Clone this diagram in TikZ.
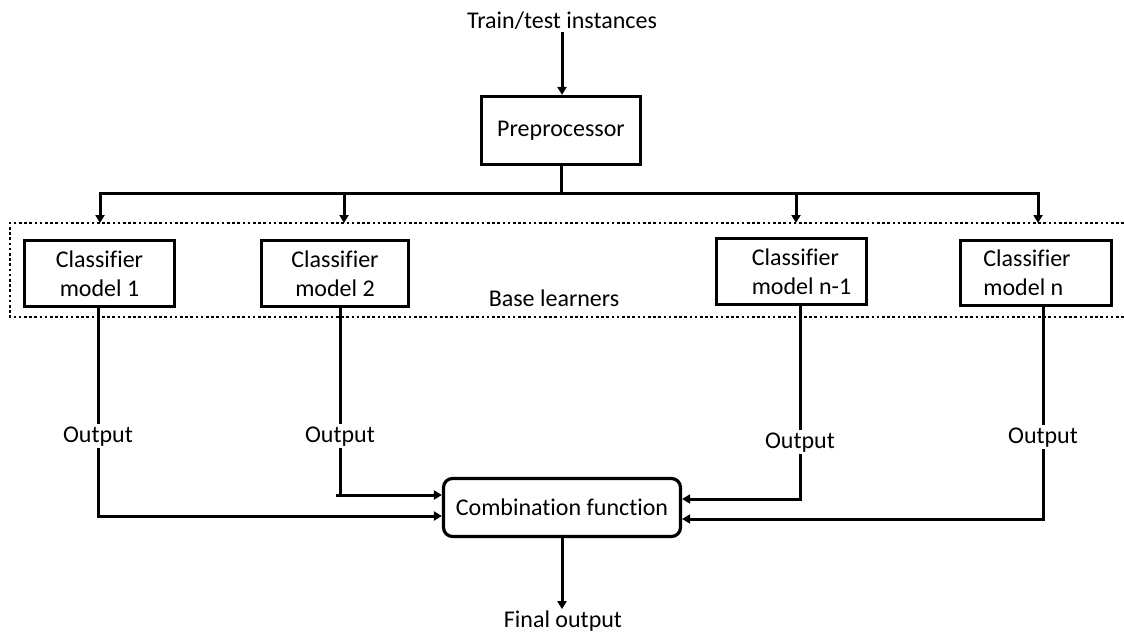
\documentclass[tikz,border=0pt]{standalone}
\usepackage{fontspec}
\setmainfont{Carlito}[Ligatures=NoCommon]
\usetikzlibrary{arrows.meta}
\begin{document}
\begin{tikzpicture}[x=1pt,y=-1pt,
  every node/.style={font=\fontsize{24}{29}\selectfont, inner sep=2pt},
  box/.style={draw, line width=3.2pt, align=center, inner sep=0pt},
  wire/.style={line width=3pt, line join=miter},
  arrow/.style={wire, -{Triangle[length=8pt,width=9pt]}},
  group/.style={line width=2.8pt, dash pattern=on 2.6pt off 2.6pt}]
\useasboundingbox (0,0) rectangle (1124,634);

% input and preprocessing
\node (src) [anchor=base] at (562,29) {Train/test instances};
\node (pre) [box, minimum width=159pt, minimum height=68pt] at (561,130.5) {Preprocessor};
\draw[arrow] (src.south) -- (src.south |- pre.north);

% distribution bus
\coordinate (b1) at (100,193);
\coordinate (b2) at (344,193);
\coordinate (b3) at (796,193);
\coordinate (b4) at (1038,193);
\coordinate (t1) at (100,223);
\coordinate (t2) at (344,223);
\coordinate (t3) at (796,223);
\coordinate (t4) at (1038,223);
\draw[wire] (pre.south) -- (pre.south |- b1);
\draw[arrow] (pre.south |- b1) -- (b1) -- (t1);
\draw[arrow] (pre.south |- b1) -- (b4) -- (t4);
\draw[arrow] (b2) -- (t2);
\draw[arrow] (b3) -- (t3);

% base learners group (open on the right)
\coordinate (gTR) at (1124,223);
\coordinate (gTL) at (10,223);
\coordinate (gBL) at (10,317);
\coordinate (gBR) at (1124,317);
\draw[group] (gTR) -- (gTL) -- (gBL) -- (gBR);

\node (c1) [box, minimum width=150pt, minimum height=66pt] at (99.5,273.5) {Classifier\\model 1};
\node (c2) [box, minimum width=147pt, minimum height=66pt] at (335,273.5) {Classifier\\model 2};
\node (c3) [box, minimum width=150pt, minimum height=66pt, align=left] at (791.5,271.5) {\hspace*{20pt}Classifier\\\hspace*{20pt}model n-1};
\node (c4) [box, minimum width=151pt, minimum height=65pt, align=left] at (1036,273) {Classifier\hspace*{18pt}\\model n};
\node (base) at (554,298) {Base learners};

% outputs of the base learners
\node (o1) [anchor=base] at (98,442) {Output};
\node (o2) [anchor=base] at (340,442) {Output};
\node (o3) [anchor=base] at (800,448) {Output};
\node (o4) [anchor=base] at (1043,443) {Output};
\draw[wire] (c1.south -| o1) -- (o1);
\draw[wire] (c2.south -| o2) -- (o2);
\draw[wire] (c3.south -| o3) -- (o3);
\draw[wire] (c4.south -| o4) -- (o4);

% combination
\node (comb) [box, rounded corners=9pt, minimum width=237pt, minimum height=58pt] at (562,507.5) {Combination function};
\coordinate (in1) at ([yshift=-8.5pt]comb.west);
\coordinate (in2) at ([yshift=12.5pt]comb.west);
\coordinate (in3) at ([yshift=8.5pt]comb.east);
\coordinate (in4) at ([yshift=-11.5pt]comb.east);
\draw[arrow] (o1) |- (in1);
\draw[arrow] (o2) -- (o2 |- in2) ++(-4,0) -- (in2);
\draw[arrow] (o3) |- (in3);
\draw[arrow] (o4) |- (in4);

% final result
\node (fin) [anchor=base, inner sep=1pt] at (563,627) {Final output};
\draw[arrow] (comb.south) -- (comb.south |- fin.north);
\end{tikzpicture}
\end{document}
